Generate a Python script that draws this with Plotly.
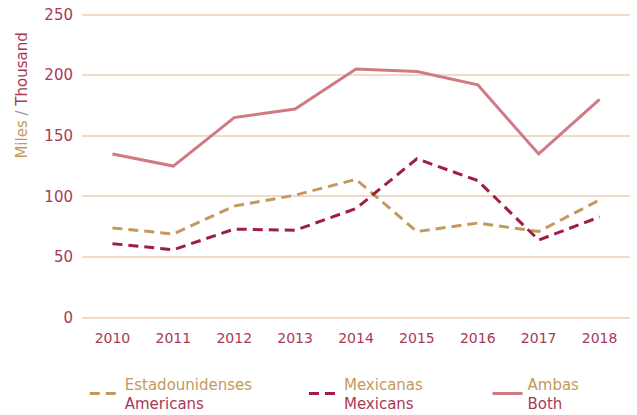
import plotly.graph_objects as go

years = ["2010", "2011", "2012", "2013", "2014", "2015", "2016", "2017", "2018"]
americans = [74, 69, 92, 101, 114, 71, 78, 71, 97]
mexicans = [61, 56, 73, 72, 90, 131, 113, 64, 83]
both = [135, 125, 165, 172, 205, 203, 192, 135, 180]

GOLD = "#C49A5C"
CRIMSON = "#9E1F3F"
PINK = "#D07A83"
TICK = "#A83A56"
GRID = "#EEDCC8"
FONT = "DejaVu Sans"

def two_line(es, en):
    return f"<span style='color:{GOLD}'>{es}</span><br><span style='color:{TICK}'>{en}</span>"

fig = go.Figure()
fig.add_trace(go.Scatter(x=years, y=americans, mode="lines", name=two_line("Estadounidenses", "Americans"),
                         line=dict(color=GOLD, width=3, dash="10px,6px"), legend="legend", showlegend=True))
fig.add_trace(go.Scatter(x=years, y=mexicans, mode="lines", name=two_line("Mexicanas", "Mexicans"),
                         line=dict(color=CRIMSON, width=3, dash="10px,6px"), legend="legend2", showlegend=True))
fig.add_trace(go.Scatter(x=years, y=both, mode="lines", name=two_line("Ambas", "Both"),
                         line=dict(color=PINK, width=3), legend="legend3", showlegend=True))

leg = dict(orientation="h", yanchor="top", xanchor="left", bgcolor="rgba(0,0,0,0)",
           font=dict(family=FONT, size=15, color=TICK), visible=True)
fig.update_layout(
    width=637, height=415,
    margin=dict(l=82, r=7, t=13, b=95, autoexpand=False),
    paper_bgcolor="white", plot_bgcolor="white",
    showlegend=True,
    font=dict(family=FONT, size=15, color=TICK),
    legend=dict(leg, x=0.005, y=-0.155),
    legend2=dict(leg, x=0.405, y=-0.155),
    legend3=dict(leg, x=0.74, y=-0.155),
    xaxis=dict(type="category", range=[-0.5, 8.5], showgrid=False, zeroline=False,
               showline=False, ticks="", ticklabelstandoff=8,
               tickfont=dict(size=14, color=TICK), automargin=False),
    yaxis=dict(range=[-2.0, 251.3], tickvals=[0, 50, 100, 150, 200, 250],
               showgrid=True, gridcolor=GRID, gridwidth=1.5,
               zeroline=False, showline=False, ticks="", ticklabelstandoff=8,
               tickfont=dict(size=15, color=TICK), automargin=False),
    annotations=[dict(
        text=f"<span style='color:{GOLD}'>Miles</span><span style='color:#999'> / </span><span style='color:{TICK}'>Thousand</span>",
        xref="paper", yref="paper", x=-0.1095, y=0.731, xanchor="center", yanchor="middle",
        textangle=-90, showarrow=False, font=dict(family=FONT, size=15))],
)
fig.write_html("out.html", config={"displayModeBar": False},
               post_script="document.body.style.margin='0';")
